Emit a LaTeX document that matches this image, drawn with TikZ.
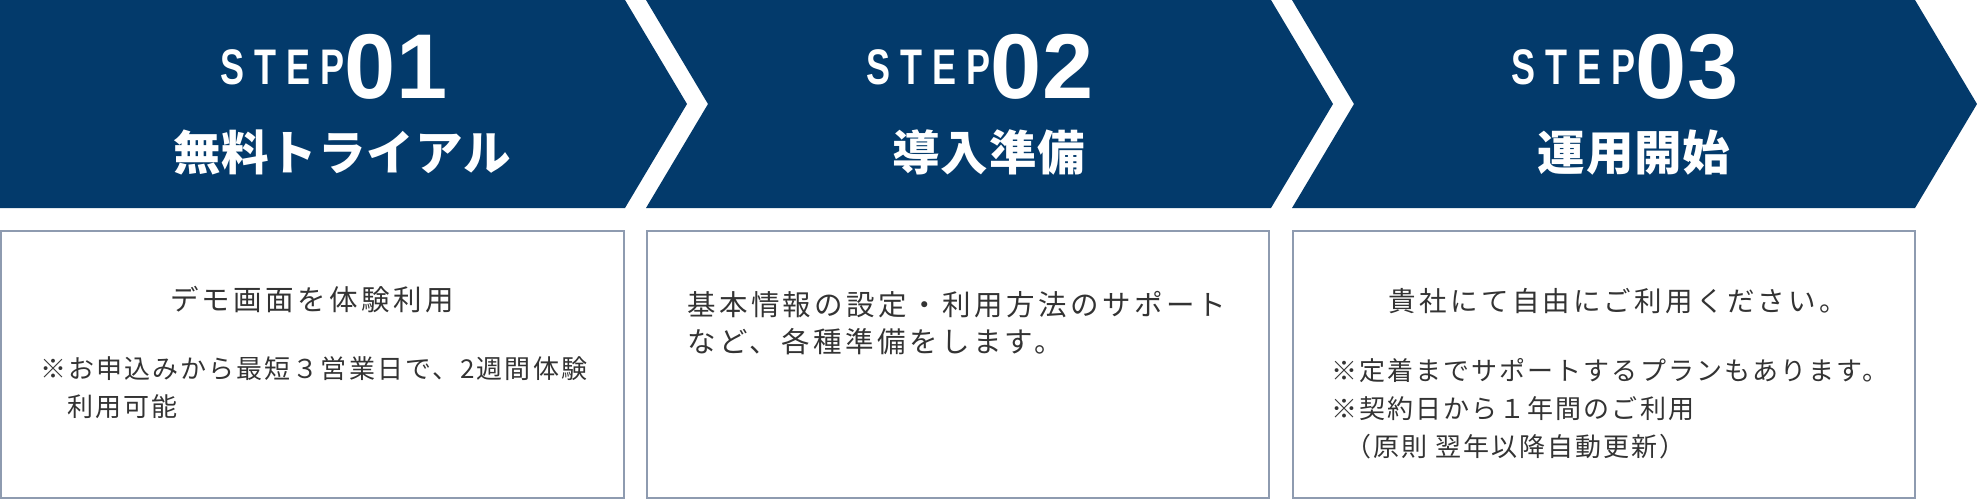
\documentclass[tikz,border=0pt]{standalone}
\usepackage{fontspec}
\setmainfont{Noto Sans CJK JP}
\newfontfamily\bodyfont{Noto Sans CJK JP}[LetterSpace=12]
\newfontfamily\notefont{Noto Sans CJK JP}[LetterSpace=8]
\newfontfamily\titlefont{Noto Sans CJK JP}[LetterSpace=2]
\newfontfamily\stepfont{Liberation Sans}[FakeStretch=0.72,LetterSpace=20]
\newfontfamily\numfont{Liberation Sans}
\definecolor{navy}{HTML}{033A6B}
\definecolor{frame}{HTML}{8E9BB0}
\definecolor{ink}{HTML}{333333}
\newcommand{\stepno}[1]{\raisebox{14pt}{\stepfont\bfseries\fontsize{50}{50}\selectfont STEP}{\numfont\bfseries\fontsize{92}{92}\selectfont #1}}

\begin{document}
\begin{tikzpicture}[x=1pt,y=-1pt,
  banner/.style={fill=navy},
  card/.style={draw=frame,line width=1.6pt},
  stepmark/.style={text=white,anchor=base,inner sep=0pt},
  heading/.style={text=white,anchor=base,inner sep=0pt,font=\titlefont\bfseries\fontsize{47.5}{47.5}\selectfont},
  lead/.style={text=ink,inner sep=0pt,align=left,font=\bodyfont\fontsize{28.5}{37}\selectfont},
  note/.style={text=ink,inner sep=0pt,align=left,font=\notefont\fontsize{26}{38}\selectfont}]
  \useasboundingbox (0,0) rectangle (1977,500);
  % arrows
  \fill[banner] (0,0) -- (625,0) -- (687,104) -- (625,208) -- (0,208) -- cycle;
  \fill[banner] (646,0) -- (1271,0) -- (1333,104) -- (1271,208) -- (646,208) -- (708,104) -- cycle;
  \fill[banner] (1292,0) -- (1915,0) -- (1977,104) -- (1915,208) -- (1292,208) -- (1354,104) -- cycle;
  % boxes
  \draw[card] (1,231) rectangle (624,498);
  \draw[card] (647,231) rectangle (1269,498);
  \draw[card] (1293,231) rectangle (1915,498);
  % step headings
  \path (334,99) node[stepmark] (step1) {\stepno{01}}
    (980,99) node[stepmark] (step2) {\stepno{02}}
    (1625,99) node[stepmark] (step3) {\stepno{03}};
  \path (342,170) node[heading] (title1) {無料トライアル}
    (989,170) node[heading] (title2) {導入準備}
    (1634,170) node[heading] (title3) {運用開始};
  % box texts (base = last line)
  \path (312,310) node[lead,anchor=base] (lead1) {デモ画面を体験利用}
    (40,416) node[note,anchor=base west] (note1) {※お申込みから最短３営業日で、2週間体験\\\hspace*{27pt}利用可能};
  \path (687,352) node[lead,anchor=base west] (lead2) {基本情報の設定・利用方法のサポート\\など、各種準備をします。};
  \path (1618,311) node[lead,anchor=base,font=\bodyfont\fontsize{27.5}{37}\selectfont] (lead3) {貴社にて自由にご利用ください。}
    (1331,456) node[note,anchor=base west] (note3) {※定着までサポートするプランもあります。\\※契約日から１年間のご利用\\\hspace*{14pt}（原則 翌年以降自動更新）};
\end{tikzpicture}
\end{document}
